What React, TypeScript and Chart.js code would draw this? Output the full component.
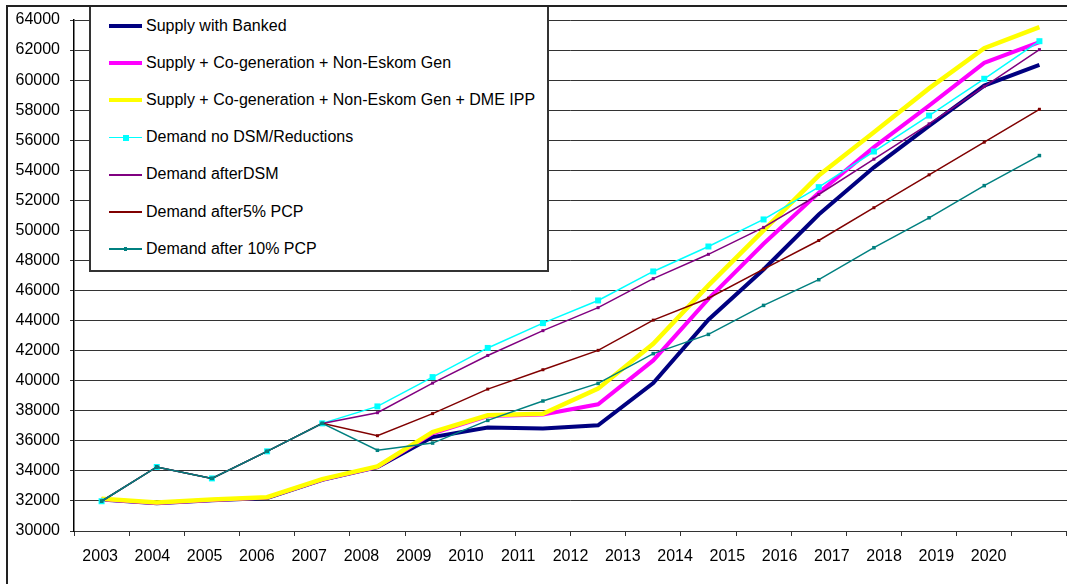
import { useEffect, useRef } from "react";
import { Chart, registerables } from "chart.js";

Chart.register(...registerables);

// Categories (one point per year)
const years = [
  "2003", "2004", "2005", "2006", "2007", "2008", "2009", "2010", "2011",
  "2012", "2013", "2014", "2015", "2016", "2017", "2018", "2019", "2020",
];
// Tick labels printed under the axis (the original spreads them over one more slot)
const axisTickLabels = [...years, ""];

// Series values (MW)
const supplyBanked = [
  32100, 31850, 32050, 32200, 33400, 34250, 36250, 36880, 36820,
  37030, 39840, 44060, 47400, 51060, 54200, 56950, 59640, 61020,
];
const supplyCogen = [
  32120, 31870, 32070, 32220, 33420, 34270, 36500, 37650, 37750,
  38430, 41350, 45450, 49110, 52500, 55540, 58300, 61150, 62520,
];
const supplyCogenIpp = [
  32150, 31900, 32100, 32250, 33450, 34300, 36580, 37700, 37800,
  39470, 42460, 46340, 50000, 53650, 56530, 59450, 62120, 63520,
];
const demandNoDsm = [
  31980, 34260, 33500, 35300, 37160, 38290, 40240, 42180, 43830,
  45340, 47270, 48930, 50730, 52880, 55250, 57640, 60090, 62590,
];
const demandAfterDsm = [
  31980, 34260, 33500, 35300, 37160, 37870, 39840, 41680, 43330,
  44860, 46790, 48410, 50200, 52390, 54740, 57090, 59570, 62030,
];
const demandAfter5Pcp = [
  31980, 34260, 33500, 35300, 37160, 36340, 37810, 39440, 40730,
  42020, 44030, 45490, 47420, 49330, 51510, 53700, 55870, 58060,
];
const demandAfter10Pcp = [
  31980, 34260, 33500, 35300, 37160, 35370, 35850, 37360, 38650,
  39820, 41800, 43080, 45010, 46720, 48850, 50840, 52980, 54980,
];

// Y axis range / step
const yMin = 30000;
const yMax = 64000;
const yStep = 2000;

const FONT = "'Liberation Sans', Arial, Helvetica, sans-serif";

type Series = {
  name: string;
  data: number[];
  color: string;
  width: number;
  marker: number; // pixel side of square marker, 0 = none
  legendWidth: number;
  legendMarker: number;
};

const series: Series[] = [
  { name: "Supply with Banked", data: supplyBanked, color: "#000080", width: 4, marker: 0, legendWidth: 4, legendMarker: 0 },
  { name: "Supply + Co-generation + Non-Eskom Gen", data: supplyCogen, color: "#FF00FF", width: 4, marker: 0, legendWidth: 4, legendMarker: 0 },
  { name: "Supply + Co-generation + Non-Eskom Gen + DME IPP", data: supplyCogenIpp, color: "#FFFF00", width: 4.5, marker: 0, legendWidth: 4, legendMarker: 0 },
  { name: "Demand no DSM/Reductions", data: demandNoDsm, color: "#00FFFF", width: 1.5, marker: 6, legendWidth: 1.5, legendMarker: 6 },
  { name: "Demand afterDSM", data: demandAfterDsm, color: "#800080", width: 1.5, marker: 3, legendWidth: 2, legendMarker: 0 },
  { name: "Demand after5% PCP", data: demandAfter5Pcp, color: "#800000", width: 1.5, marker: 3, legendWidth: 2, legendMarker: 0 },
  { name: "Demand after 10% PCP", data: demandAfter10Pcp, color: "#008080", width: 1.5, marker: 3.5, legendWidth: 1.5, legendMarker: 3.5 },
];

export default function App() {
  const ref = useRef<HTMLCanvasElement>(null);

  useEffect(() => {
    if (!ref.current) return;
    const n = series.length;
    const chart = new Chart(ref.current, {
      type: "line",
      data: {
        labels: years,
        datasets: series.map((s, i) => ({
          label: s.name,
          data: s.data,
          borderColor: s.color,
          backgroundColor: s.color,
          borderWidth: s.width,
          pointStyle: "rect",
          pointRadius: s.marker ? s.marker / Math.SQRT2 : 0,
          pointBorderWidth: 0,
          pointBackgroundColor: s.color,
          pointBorderColor: s.color,
          tension: 0,
          fill: false,
          clip: false,
          order: n - i,
        })),
      },
      options: {
        animation: false,
        responsive: false,
        devicePixelRatio: 1,
        layout: { autoPadding: false, padding: { top: 20, bottom: 0, left: 0, right: 0 } },
        plugins: {
          legend: { display: false },
          tooltip: { enabled: false },
        },
        scales: {
          x: {
            type: "category",
            offset: true,
            weight: 0,
            grid: {
              display: true,
              drawOnChartArea: false,
              drawTicks: true,
              tickLength: 5,
              color: "#333",
              offset: true,
            },
            border: { display: true, color: "#333", width: 1 },
            ticks: { display: false },
            afterFit: (s: any) => {
              s.height = 5;
              s.paddingLeft = 0;
              s.paddingRight = 0;
            },
          },
          xLabels: {
            type: "category",
            position: "bottom",
            labels: axisTickLabels,
            offset: true,
            weight: 1,
            grid: { display: false, drawTicks: false, tickLength: 0 },
            border: { display: false },
            ticks: {
              autoSkip: false,
              maxRotation: 0,
              minRotation: 0,
              padding: 11,
              color: "#000",
              font: { family: FONT, size: 16 },
            },
            afterFit: (s: any) => {
              s.height = 48;
              s.paddingLeft = 0;
              s.paddingRight = 0;
            },
          },
          y: {
            min: yMin,
            max: yMax,
            ticks: {
              stepSize: yStep,
              callback: (v: any) => String(v),
              padding: 10,
              color: "#000",
              font: { family: FONT, size: 16 },
            },
            grid: { color: "#333", tickLength: 4, drawTicks: true },
            border: { display: true, color: "#000", width: 1.5 },
            afterFit: (s: any) => {
              s.width = 74;
            },
          },
        },
      } as any,
    });
    return () => chart.destroy();
  }, []);

  const rowStart = 19;
  const rowStep = 37.2;

  return (
    <div
      style={{
        position: "fixed",
        left: 0,
        top: 0,
        width: 1067,
        height: 584,
        overflow: "hidden",
        background: "#fff",
        fontFamily: FONT,
      }}
    >
      <canvas
        ref={ref}
        width={1067}
        height={584}
        style={{ position: "absolute", left: 0, top: 0, width: 1067, height: 584 }}
      />
      {/* Legend */}
      <div
        style={{
          position: "absolute",
          left: 89,
          top: 5,
          width: 460,
          height: 267,
          boxSizing: "border-box",
          border: "2px solid #333",
          background: "#fff",
        }}
      >
        {series.map((s, i) => {
          const cy = rowStart + i * rowStep;
          return (
            <div key={s.name}>
              <div
                style={{
                  position: "absolute",
                  left: 18,
                  top: cy - s.legendWidth / 2,
                  width: 33,
                  height: s.legendWidth,
                  background: s.color,
                }}
              />
              {s.legendMarker ? (
                <div
                  style={{
                    position: "absolute",
                    left: 18 + 16.5 - s.legendMarker / 2,
                    top: cy - s.legendMarker / 2,
                    width: s.legendMarker,
                    height: s.legendMarker,
                    background: s.color,
                  }}
                />
              ) : null}
              <div
                style={{
                  position: "absolute",
                  left: 55,
                  top: cy - 10.5,
                  lineHeight: "20px",
                  fontSize: 16,
                  color: "#000",
                  whiteSpace: "nowrap",
                }}
              >
                {s.name}
              </div>
            </div>
          );
        })}
      </div>
      {/* Outer chart frame */}
      <div
        style={{
          position: "absolute",
          left: 6,
          top: 5,
          width: 1200,
          height: 800,
          border: "2px solid #222",
          pointerEvents: "none",
        }}
      />
    </div>
  );
}
